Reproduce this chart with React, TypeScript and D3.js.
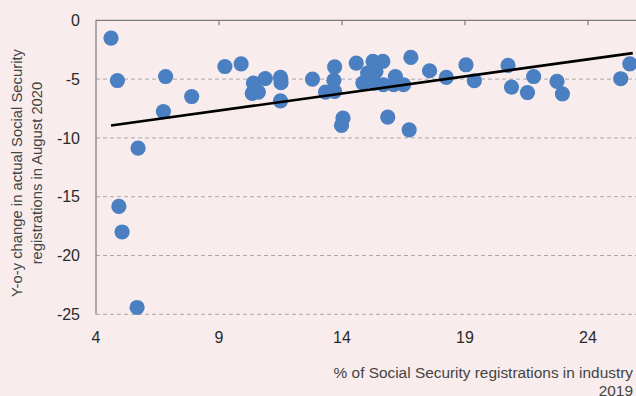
import React from "react";
import * as d3 from "d3";

const shareX = [4.61, 4.87, 4.93, 5.06, 5.67, 5.71, 6.83, 6.74, 7.89, 9.24, 9.9, 10.4, 10.35, 10.6, 10.88, 11.5, 11.52, 11.5, 12.8, 13.33, 13.7, 13.7, 13.67, 14.04, 13.98, 14.58, 14.85, 15.26, 15.66, 15.04, 15.38, 15.33, 15.68, 16.17, 16.1, 16.5, 15.86, 16.73, 16.8, 17.56, 18.24, 19.04, 19.38, 20.75, 20.89, 21.54, 21.79, 22.74, 22.96, 25.33, 25.7, 15.2];
const changeY = [-1.52, -5.12, -15.83, -18.0, -24.42, -10.87, -4.78, -7.76, -6.48, -3.93, -3.7, -5.34, -6.22, -6.1, -4.95, -4.85, -5.3, -6.85, -5.0, -6.1, -6.05, -3.95, -5.1, -8.32, -8.94, -3.64, -5.34, -3.5, -3.5, -4.49, -4.35, -5.34, -5.48, -4.78, -5.48, -5.48, -8.23, -9.31, -3.16, -4.29, -4.86, -3.78, -5.14, -3.84, -5.68, -6.14, -4.78, -5.2, -6.25, -4.97, -3.7, -4.9];
const trendX = [4.61, 25.82];
const trendY = [-8.95, -2.79];
const xTicks = [4, 9, 14, 19, 24];
const yTicks = [0, -5, -10, -15, -20, -25];

const W = 636, H = 396;
const x = d3.scaleLinear().domain([4, 26]).range([96, 637.2]);
const y = d3.scaleLinear().domain([-25, 0]).range([314.3, 20.3]);

export default function App() {
  const font = "'Liberation Sans', Arial, Helvetica, sans-serif";
  const line = d3.line<number>().x((d, i) => x(trendX[i])).y((d, i) => y(trendY[i]));
  return (
    <svg width={W} height={H} style={{ position: "absolute", left: 0, top: 0, background: "#f8ecec" }} fontFamily={font}>
      <rect x={0} y={0} width={W} height={H} fill="#f8ecec" />
      {yTicks.filter((t) => t !== 0).map((t) => (
        <line key={t} x1={x(4)} x2={W} y1={y(t)} y2={y(t)} stroke="#a9a9a9" strokeDasharray="4,3" strokeWidth={1} />
      ))}
      <line x1={x(4)} x2={W} y1={y(0)} y2={y(0)} stroke="#7d7d7d" strokeWidth={1.2} />
      <line x1={x(4)} x2={x(4)} y1={y(0)} y2={y(-25)} stroke="#7d7d7d" strokeWidth={1.2} />
      {xTicks.filter((t) => t !== 4).map((t) => (
        <line key={t} x1={x(t)} x2={x(t)} y1={y(0)} y2={y(0) + 5} stroke="#7d7d7d" strokeWidth={1.2} />
      ))}
      {yTicks.map((t) => (
        <text key={t} x={80} y={y(t)} dy="0.36em" textAnchor="end" fontSize={16} fill="#2a2a2a">{t}</text>
      ))}
      {xTicks.map((t) => (
        <text key={t} x={x(t)} y={337} dy="0.36em" textAnchor="middle" fontSize={16} fill="#2a2a2a">{t}</text>
      ))}
      {shareX.map((v, i) => (
        <circle key={i} cx={x(v)} cy={y(changeY[i])} r={7.6} fill="#4a7fc1" />
      ))}
      <path d={line(trendX) || ""} stroke="#000" strokeWidth={2.6} fill="none" />
      <text transform="translate(22,173) rotate(-90)" textAnchor="middle" fontSize={14.8} fill="#444">Y-o-y change in actual Social Security</text>
      <text transform="translate(42,173) rotate(-90)" textAnchor="middle" fontSize={14.8} fill="#444">registrations in August 2020</text>
      <text x={633} y={377.5} textAnchor="end" fontSize={15.4} fill="#444">% of Social Security registrations in industry</text>
      <text x={633} y={395.5} textAnchor="end" fontSize={15.4} fill="#444">2019</text>
    </svg>
  );
}
